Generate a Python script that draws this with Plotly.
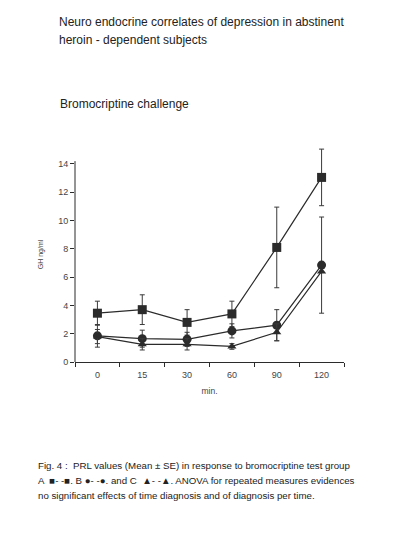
import plotly.graph_objects as go

# ---- data ----
time_labels = ["0", "15", "30", "60", "90", "120"]
group_a = [3.45, 3.7, 2.8, 3.4, 8.1, 13.05]
group_a_se = [0.85, 1.05, 0.9, 0.9, 2.85, 2.0]
group_b = [1.85, 1.65, 1.6, 2.2, 2.6, 6.85]
group_b_se = [0.8, 0.6, 0.5, 0.5, 1.1, 3.4]
group_c = [1.8, 1.25, 1.25, 1.1, 2.1, 6.4]
group_c_se = [0.5, 0.4, 0.4, 0.2, 0.6, 0.0]
y_ticks = [0, 2, 4, 6, 8, 10, 12, 14]
y_axis_top = 14.2
y_range_top = 15.2

INK = "#2b2b2b"
FONT = "Liberation Sans, Arial, sans-serif"

W, H = 396, 552
L, R, T, B = 67, 60, 139, 198
PW, PH = W - L - R, H - T - B


def px(xpix):
    return (xpix - L) / PW


def py(ypix):
    return (H - B - ypix) / PH


fig = go.Figure()

series = [
    (group_a, group_a_se, "square", 9, "A"),
    (group_b, group_b_se, "circle", 9, "B"),
    (group_c, group_c_se, "triangle-up", 8, "C"),
]
for vals, se, sym, size, name in series:
    fig.add_trace(go.Scatter(
        x=time_labels, y=vals, name=name, mode="lines+markers",
        line=dict(color=INK, width=1.2),
        marker=dict(symbol=sym, size=size, color=INK),
        error_y=dict(type="data", array=se, visible=True, color="#3a3a3a",
                     thickness=1, width=2.5),
        cliponaxis=False, showlegend=False,
    ))

fig.update_xaxes(
    type="category", range=[-0.5, 5.5], tickson="boundaries",
    ticks="outside", ticklen=4, tickcolor=INK, showline=True,
    linecolor=INK, linewidth=1, showgrid=False, zeroline=False,
    ticklabelstandoff=4,
    tickfont=dict(family=FONT, size=9, color="#444"),
    title=dict(text="min.", font=dict(family=FONT, size=8.5, color="#444"),
               standoff=9),
)
fig.update_yaxes(
    range=[0, y_range_top], tickvals=y_ticks, ticks="outside", ticklen=4,
    tickcolor=INK, showline=False, showgrid=False, zeroline=False,
    tickfont=dict(family=FONT, size=9, color="#444"),
    title=dict(text="GH ng/ml", font=dict(family=FONT, size=7, color="#444"),
               standoff=13),
)
# y axis line that stops just above the last tick
fig.add_shape(type="line", xref="paper", yref="y", x0=0, x1=0,
              y0=0, y1=y_axis_top, line=dict(color=INK, width=1))

annotations = [
    (49, 14, "Neuro endocrine correlates of depression in abstinent", 12),
    (49, 32, "heroin - dependent subjects", 12),
    (50, 96, "Bromocriptine challenge", 12),
    (28, 457, "Fig. 4 :  PRL values (Mean ± SE) in response to bromocriptine test group", 9.7),
    (28, 472, "A  ■- -■. B ●- -●. and C  ▲- -▲. ANOVA for repeated measures evidences", 9.7),
    (28, 487, "no significant effects of time diagnosis and of diagnosis per time.", 9.7),
]
for xp, yp, txt, fs in annotations:
    fig.add_annotation(
        x=px(xp), y=py(yp), xref="paper", yref="paper", text=txt,
        showarrow=False, xanchor="left", yanchor="middle",
        font=dict(family=FONT, size=fs, color="#222"),
    )

fig.update_layout(
    width=W, height=H, margin=dict(l=L, r=R, t=T, b=B),
    paper_bgcolor="white", plot_bgcolor="white",
)

fig.write_html("out.html")
